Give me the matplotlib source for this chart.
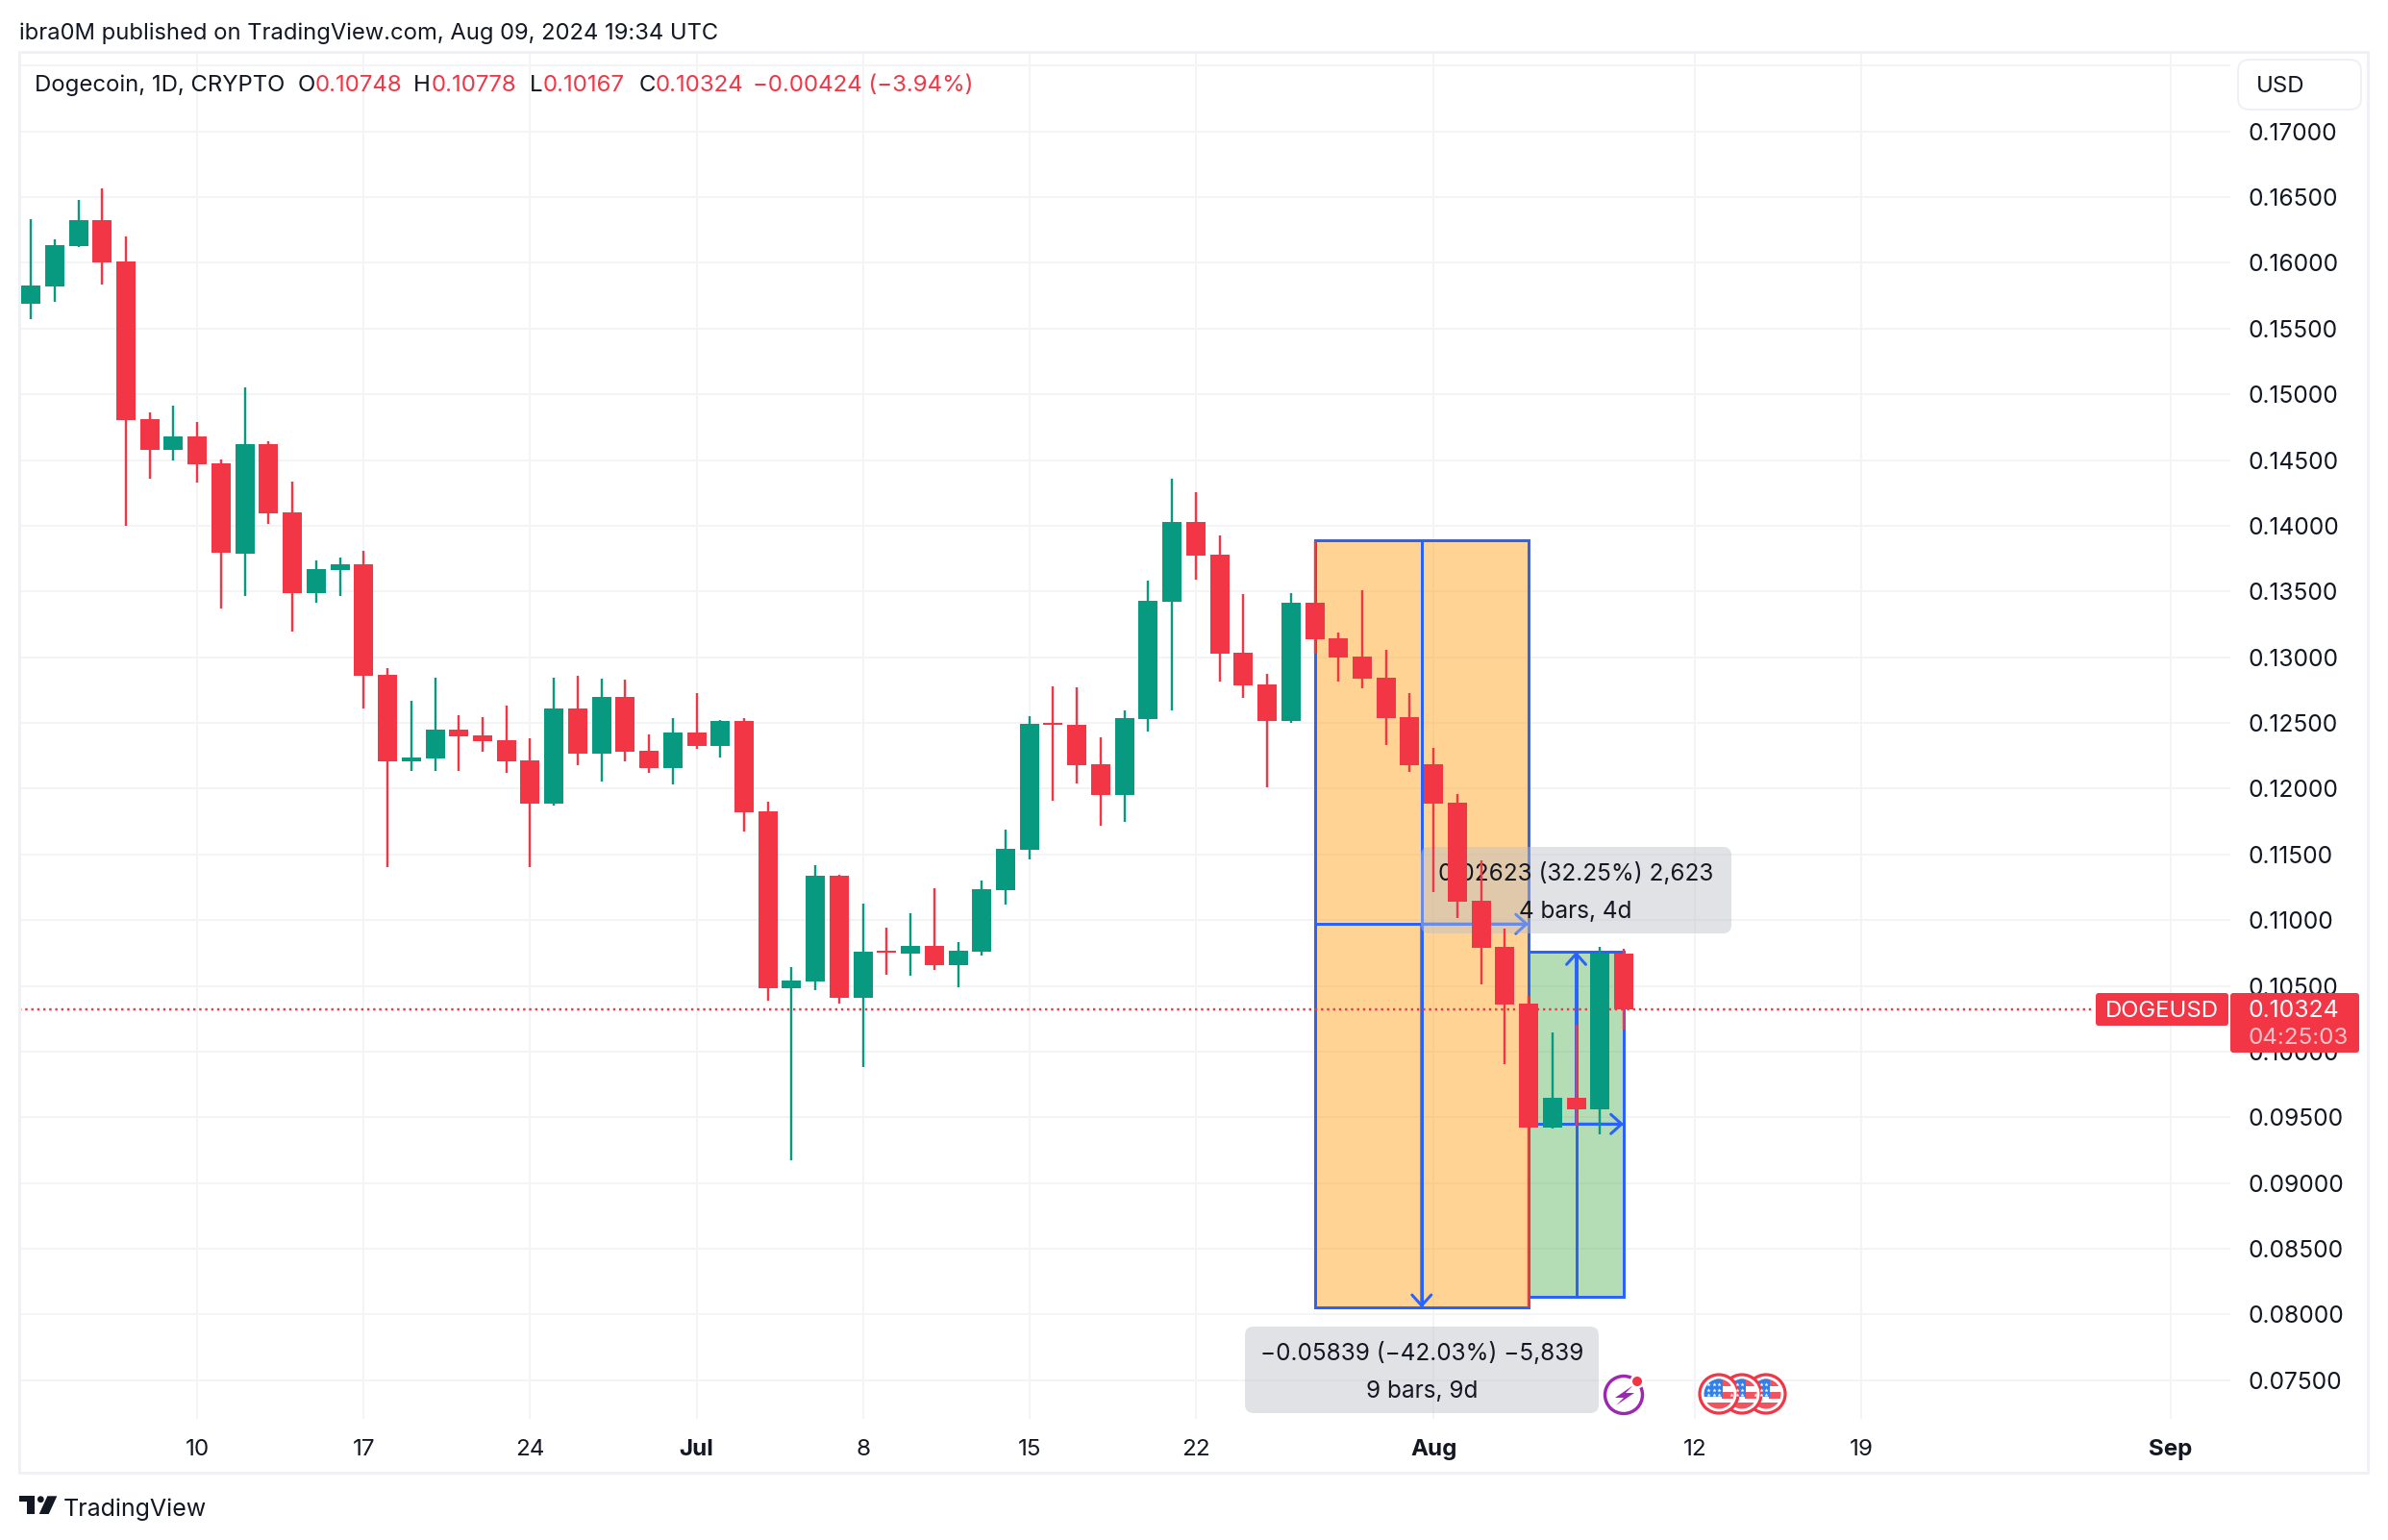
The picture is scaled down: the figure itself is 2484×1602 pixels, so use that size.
import matplotlib
matplotlib.use("Agg")
import matplotlib.pyplot as plt
import matplotlib.dates as mdates
import pandas as pd
from matplotlib.patches import Rectangle, FancyBboxPatch, Circle, Polygon

plt.rcParams['font.family'] = ['Inter', 'DejaVu Sans']

W, H, DPI = 2484, 1602, 100
PX = 72 / DPI

# ---------- data ----------
first_day = "2024-06-03"
opens = [.15691,.15823,.16127,.16325,.1601,.14811,.14577,.1468,.14475,.13788,.14621,.14102,.13488,.13663,
         .13707,.12867,.12209,.12229,.1245,.12405,.12369,.12215,.11888,.1261,.12265,.12699,.12288,.12156,
         .12428,.12324,.12514,.11829,.10483,.10533,.11339,.1041,.10768,.10746,.10804,.10656,.1076,.11227,
         .11535,.125,.12485,.12185,.11951,.12529,.13421,.14028,.1378,.13034,.12792,.12514,.13414,.13143,
         .13005,.12844,.12544,.12186,.11894,.11147,.10797,.10366,.09423,.09649,.09557,.10748]
highs = [.16332,.16178,.16478,.16566,.162,.14862,.14913,.1479,.14504,.15053,.14643,.14336,.13736,.13758,
         .1381,.12917,.12668,.12845,.12559,.12545,.12632,.12383,.12845,.12859,.12836,.12831,.12414,.12537,
         .12727,.12523,.12537,.11902,.10642,.11417,.11345,.11126,.10942,.11054,.11244,.10832,.113,.11689,
         .12551,.12778,.1277,.1239,.12595,.13582,.14357,.14255,.13926,.1348,.12873,.13487,.13886,.13187,
         .1351,.13056,.12727,.1231,.11959,.11455,.10937,.10424,.10145,.10203,.10797,.10778]
lows = [.15572,.15703,.1612,.15835,.14002,.1436,.14496,.14329,.13371,.13466,.14014,.13195,.13415,.13466,
        .1261,.11403,.12134,.12134,.12134,.12282,.1212,.11403,.11871,.12179,.12055,.12209,.1212,.12033,
        .12302,.12237,.11675,.10387,.09173,.10469,.10365,.09881,.10583,.10578,.1062,.10488,.10732,.11118,
        .11462,.11907,.12039,.11717,.11747,.12434,.12595,.13589,.12814,.1269,.1201,.125,.13026,.12814,
        .12764,.12332,.12127,.11213,.11016,.10511,.09904,.08051,.09414,.09437,.09367,.10167]
closes = [.15827,.16135,.16325,.16005,.14806,.14577,.14679,.14468,.13795,.14621,.14095,.13488,.13671,.13707,
          .12859,.12209,.12237,.1245,.12397,.12361,.12209,.11888,.1261,.12265,.12699,.12282,.12156,.12428,
          .12324,.12514,.1182,.10483,.10541,.11339,.1041,.1076,.10751,.10804,.10656,.10768,.11235,.11543,
          .12492,.12486,.12178,.11951,.12536,.13429,.14028,.13772,.13026,.12785,.12514,.13414,.13136,.12997,
          .12837,.12537,.12179,.11886,.1114,.10789,.10357,.09423,.09649,.09557,.10746,.10324]
dates = pd.date_range(first_day, periods=len(opens), freq="D")

price_ticks = [.075,.08,.085,.09,.095,.10,.105,.11,.115,.12,.125,.13,.135,.14,.145,.15,.155,.16,.165,.17,.175]
price_labels = [f"{v:.5f}" for v in price_ticks[:-1]] + [""]
time_ticks = ["2024-06-10","2024-06-17","2024-06-24","2024-07-01","2024-07-08","2024-07-15",
              "2024-07-22","2024-08-01","2024-08-12","2024-08-19","2024-09-01"]
time_labels = ["10","17","24","Jul","8","15","22","Aug","12","19","Sep"]
time_bold = ["Jul","Aug","Sep"]

last_price = 0.10324
box_short = ("2024-07-27", "2024-08-05", 0.08051, 0.13890)
box_long = ("2024-08-05", "2024-08-09", 0.08137, 0.10760)

UP, DOWN, INK = "#089981", "#F23645", "#131722"
BLUE, GRID, BORDER = "#2962FF", "#F3F4F6", "#F0F1F6"

# ---------- figure & axes ----------
fig = plt.figure(figsize=(W / DPI, H / DPI), dpi=DPI, facecolor="white")
L, R, T, B = 20, 2320, 53, 1476
ax = fig.add_axes([L / W, 1 - B / H, (R - L) / W, (B - T) / H])
ov = fig.add_axes([0, 0, 1, 1], zorder=10)
ov.set_xlim(0, W); ov.set_ylim(H, 0); ov.axis("off"); ov.patch.set_alpha(0)

d10 = mdates.date2num(pd.Timestamp("2024-06-10"))
px_day = 24.73
X10 = 205.2
ax.set_xlim(d10 + (L - X10) / px_day, d10 + (R - X10) / px_day)
ax.set_ylim(0.17 - (B - 136.7) / 13674, 0.17 + (136.7 - T) / 13674)
for s in ax.spines.values():
    s.set_visible(False)

ax.set_xticks(mdates.date2num(pd.to_datetime(time_ticks)))
ax.set_xticklabels(time_labels)
ax.set_yticks(price_ticks)
ax.set_yticklabels(price_labels)
ax.yaxis.tick_right()
ax.tick_params(axis="x", length=0, pad=15, labelsize=17.4, labelcolor=INK)
ax.tick_params(axis="y", length=0, pad=13, labelsize=17.7, labelcolor=INK)
for lab in ax.get_xticklabels():
    if lab.get_text() in time_bold:
        lab.set_fontweight("bold")
ax.grid(True, color=GRID, lw=2 * PX)
ax.set_axisbelow(True)

# ---------- measure tools ----------
def num(d):
    return mdates.date2num(pd.Timestamp(d))

def measure(box, fill, label_down):
    x0, x1, y0, y1 = num(box[0]), num(box[1]), box[2], box[3]
    xm, ym = (x0 + x1) / 2, (y0 + y1) / 2
    ax.add_patch(Rectangle((x0, y0), x1 - x0, y1 - y0, facecolor=fill, alpha=0.42, lw=0, zorder=2))
    ax.add_patch(Rectangle((x0, y0), x1 - x0, y1 - y0, fill=False, edgecolor=BLUE, lw=3 * PX, zorder=2.2))
    ax.plot([x0, x1], [ym, ym], color=BLUE, lw=3 * PX, zorder=2.2, solid_capstyle="butt")
    ax.plot([xm, xm], [y0, y1], color=BLUE, lw=3 * PX, zorder=2.2, solid_capstyle="butt")
    style = "->,head_length=0.8,head_width=0.72"
    kw = dict(arrowstyle=style, color=BLUE, lw=3 * PX, shrinkA=0, shrinkB=0, mutation_scale=10)
    ax.annotate("", xy=(x1, ym), xytext=(xm, ym), arrowprops=kw, zorder=2.3)
    if label_down:
        ax.annotate("", xy=(xm, y0), xytext=(xm, ym), arrowprops=kw, zorder=2.3)
    else:
        ax.annotate("", xy=(xm, y1), xytext=(xm, ym), arrowprops=kw, zorder=2.3)

measure(box_long, "#4CAF50", False)
measure(box_short, "#FF9800", True)

def tag(x0, y0, x1, y1, line1, line2, cx, y_a, y_b):
    ax.add_patch(FancyBboxPatch((x0, y0), x1 - x0, y1 - y0, boxstyle="round,pad=0,rounding_size=9",
                                facecolor="#BBBFC8", alpha=0.45, lw=0, transform=ov.transData,
                                clip_on=False, zorder=3))
    for s, y in ((line1, y_a), (line2, y_b)):
        ax.text(cx, y, s, transform=ov.transData, ha="center", va="center", fontsize=17.5,
                color=INK, zorder=4, clip_on=False)

tag(1478, 881, 1801, 971, "0.02623 (32.25%) 2,623", "4 bars, 4d", 1639, 908.5, 948.5)
tag(1295, 1380, 1663, 1470, "\u22120.05839 (\u221242.03%) \u22125,839", "9 bars, 9d", 1479, 1408, 1448)

# ---------- price line and candles ----------
ax.plot([ax.get_xlim()[0], d10 + (2176 - X10) / px_day], [last_price, last_price],
        color=DOWN, lw=2.4 * PX, ls=(0, (1, 1.6)), zorder=3.5)
colors = [UP if c >= o else DOWN for o, c in zip(opens, closes)]
bottoms = [min(o, c) for o, c in zip(opens, closes)]
heights = [abs(c - o) for o, c in zip(opens, closes)]
ax.vlines(dates, lows, highs, colors=colors, lw=2.4 * PX, zorder=5)
ax.bar(dates, heights, bottom=bottoms, width=20 / px_day, color=colors, lw=0, zorder=6)

# ---------- chrome ----------
ov.add_patch(Rectangle((20, 53.5), 2443, 1478, fill=False, edgecolor=BORDER, lw=3 * PX))
ov.add_patch(FancyBboxPatch((2328, 62), 128, 52, boxstyle="round,pad=0,rounding_size=12",
                            facecolor="white", edgecolor="#EEF0F6", lw=2 * PX))
ov.text(2347, 90, "USD", fontsize=17.3, color=INK, va="center", ha="left")

ov.text(20, 35, "ibra0M published on TradingView.com, Aug 09, 2024 19:34 UTC",
        fontsize=17.1, color=INK, va="center", ha="left")
ov.text(36, 89, "Dogecoin, 1D, CRYPTO", fontsize=17.2, color=INK, va="center", ha="left")
for x, s, col in [(310, "O", INK), (328, "0.10748", DOWN), (430, "H", INK), (449, "0.10778", DOWN),
                  (551, "L", INK), (565, "0.10167", DOWN), (665, "C", INK), (682, "0.10324", DOWN),
                  (783, "\u22120.00424 (\u22123.94%)", DOWN)]:
    ov.text(x, 89, s, fontsize=17.3, color=col, va="center", ha="left")

# last price tags
ov.add_patch(FancyBboxPatch((2180, 1033), 138, 34, boxstyle="round,pad=0,rounding_size=3",
                            facecolor=DOWN, lw=0))
ov.text(2249, 1052, "DOGEUSD", fontsize=17.2, color="white", va="center", ha="center")
ov.add_patch(FancyBboxPatch((2320, 1033), 134, 62, boxstyle="round,pad=0,rounding_size=3",
                            facecolor=DOWN, lw=0))
ov.text(2338, 1052, "0.10324", fontsize=17.8, color="white", va="center", ha="left")
ov.text(2338, 1080, "04:25:03", fontsize=17.4, color="#FBC3C8", va="center", ha="left")

# footer logo
ov.add_patch(Polygon([(20, 1556.3), (36, 1556.3), (36, 1575), (28.3, 1575), (28.3, 1562), (20, 1562)],
                     facecolor=INK, lw=0))
ov.add_patch(Circle((42.3, 1559.7), 3.4, facecolor=INK, lw=0))
ov.add_patch(Polygon([(49.3, 1556.3), (59.3, 1556.3), (50.7, 1575), (40.7, 1575)], facecolor=INK, lw=0))
ov.text(66, 1570, "TradingView", fontsize=18, color=INK, va="center", ha="left")

# event icons
ov.add_patch(Circle((1689, 1451), 19.5, fill=False, edgecolor="#9C27B0", lw=3.4 * PX))
ov.add_patch(Polygon([(1699, 1441), (1680, 1454), (1689, 1454), (1681, 1462), (1700, 1449), (1691, 1449)],
                     facecolor="#9C27B0", lw=0))
ov.add_patch(Circle((1703, 1437), 7.5, facecolor="white", lw=0))
ov.add_patch(Circle((1703, 1437), 5, facecolor=DOWN, lw=0))

for cx in (1837, 1812, 1788):
    cy = 1450
    ov.add_patch(Circle((cx, cy), 20, facecolor="white", edgecolor=DOWN, lw=3.2 * PX))
    clip = Circle((cx, cy), 15.5, transform=ov.transData)
    for (rx, ry, rw, rh, col) in [(cx - 16, cy + 9, 32, 9, "#F2545F"),
                                  (cx + 3, cy - 2, 14, 7, "#F2545F"),
                                  (cx - 4, cy - 16, 21, 8, "#F2545F"),
                                  (cx - 16, cy - 16, 20, 19, "#2F80ED")]:
        r = Rectangle((rx, ry), rw, rh, facecolor=col, lw=0)
        ov.add_patch(r)
        r.set_clip_path(clip)
    for sx in (-11, -5, 0):
        for sy in (-10, -4, 1):
            ov.plot(cx + sx, cy + sy, marker="*", ms=3.2, mfc="white", mec="none")
ov.set_xlim(0, W); ov.set_ylim(H, 0)

fig.savefig("out.png", dpi=DPI, facecolor="white")
